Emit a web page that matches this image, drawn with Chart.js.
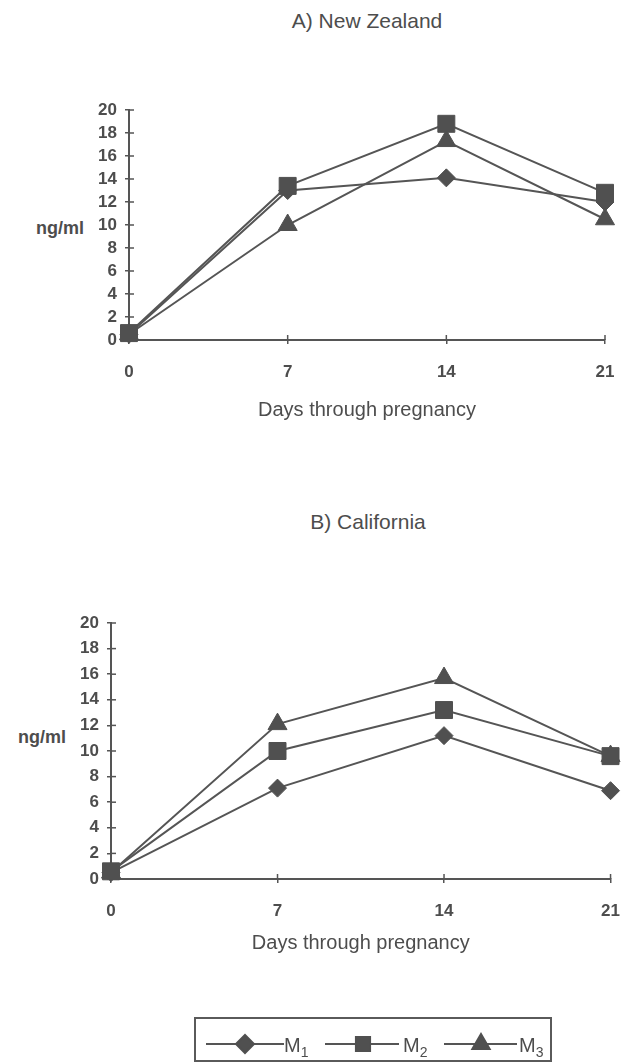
<!DOCTYPE html>
<html><head><meta charset="utf-8">
<script src="https://cdn.jsdelivr.net/npm/chart.js@4.4.1/dist/chart.umd.min.js"></script>
<style>
html,body{margin:0;padding:0;background:#fff;}
body{width:638px;height:1064px;position:relative;overflow:hidden;font-family:"Liberation Sans",Arial,sans-serif;color:#4d4d4d;}
.abs{position:absolute;white-space:nowrap;}
.title{font-size:21px;line-height:24px;text-align:center;}
.ylab{font-size:18px;font-weight:bold;line-height:22px;text-align:right;}
#legend{position:absolute;left:194px;top:1017px;width:358px;height:45px;border:2px solid #5a5a5a;box-sizing:border-box;}
#legend canvas{position:absolute;left:0;top:0;}
.lt{position:absolute;font-size:20px;line-height:24px;top:14px;}
.lt sub{font-size:14px;vertical-align:-5px;line-height:0;}
</style></head>
<body>
<div class="abs title" style="left:129px;width:476px;top:9px;">A) New Zealand</div>
<div class="abs ylab" style="left:0;width:84px;top:217px;">ng/ml</div>
<div class="abs" style="left:0;top:0;width:638px;height:450px;"><canvas id="chartA" width="638" height="450"></canvas></div>

<div class="abs title" style="left:111px;width:514px;top:510px;">B) California</div>
<div class="abs ylab" style="left:0;width:66px;top:726px;">ng/ml</div>
<div class="abs" style="left:0;top:600px;width:638px;height:370px;"><canvas id="chartB" width="638" height="370"></canvas></div>

<div id="legend">
  <canvas id="legendCanvas" width="358" height="45"></canvas>
  <span class="lt" style="left:88px;">M<sub>1</sub></span>
  <span class="lt" style="left:207px;">M<sub>2</sub></span>
  <span class="lt" style="left:323px;">M<sub>3</sub></span>
</div>

<script>
// ---- data ----
const days = ['0', '7', '14', '21'];
const seriesNames = ['M1', 'M2', 'M3'];
const yMin = 0, yMax = 20, yStep = 2;

const nzM1 = [0.5, 13.0, 14.1, 12.0];
const nzM2 = [0.6, 13.4, 18.8, 12.8];
const nzM3 = [0.5, 10.0, 17.3, 10.5];

const caM1 = [0.5, 7.1, 11.2, 6.9];
const caM2 = [0.6, 10.0, 13.2, 9.6];
const caM3 = [0.5, 12.1, 15.7, 9.6];

// ---- style ----
const FONT = '"Liberation Sans", Arial, sans-serif';
const LINE = '#555555';
const FILL = '#505050';
const AX = '#555555';
const TXT = '#4d4d4d';
const markers = [
  {style: 'rectRot', radius: 9},
  {style: 'rect', radius: 12},
  {style: 'triangle', radius: 11}
];
const drawOrder = [1, 0, 2];

const crossTicks = {
  id: 'crossTicks',
  beforeDatasetsDraw(chart) {
    const {ctx, scales: {x, y}, chartArea: a} = chart;
    ctx.save();
    ctx.strokeStyle = AX;
    ctx.lineWidth = 1.5;
    y.ticks.forEach((t, i) => {
      const py = y.getPixelForTick(i);
      ctx.beginPath(); ctx.moveTo(a.left, py); ctx.lineTo(a.left + 5, py); ctx.stroke();
    });
    x.ticks.forEach((t, i) => {
      if (i === 0) return;
      const px = x.getPixelForTick(i);
      ctx.beginPath(); ctx.moveTo(px, a.bottom); ctx.lineTo(px, a.bottom - 5); ctx.stroke();
    });
    ctx.restore();
  }
};

function makeDatasets(arrs) {
  return arrs.map((d, i) => ({
    label: seriesNames[i],
    data: d,
    borderColor: LINE,
    backgroundColor: FILL,
    pointBackgroundColor: FILL,
    pointBorderColor: FILL,
    pointBorderWidth: 1,
    pointStyle: markers[i].style,
    pointRadius: markers[i].radius,
    pointHoverRadius: markers[i].radius,
    borderWidth: 2,
    tension: 0,
    clip: false,
    order: drawOrder[i]
  }));
}

function makeChart(id, arrs, geo) {
  return new Chart(document.getElementById(id), {
    type: 'line',
    data: {labels: days, datasets: makeDatasets(arrs)},
    plugins: [crossTicks],
    options: {
      responsive: false,
      animation: false,
      events: [],
      layout: {padding: {left: 0, right: geo.right, top: geo.top, bottom: 0}},
      plugins: {legend: {display: false}, tooltip: {enabled: false}, title: {display: false}},
      scales: {
        x: {
          type: 'category',
          offset: false,
          grid: {drawOnChartArea: false, drawTicks: true, tickLength: 4, color: AX, lineWidth: 1.5},
          border: {color: AX, width: 2},
          ticks: {color: TXT, font: {family: FONT, size: 17, weight: 'bold'}, padding: 18, maxRotation: 0, autoSkip: false},
          title: {display: true, text: 'Days through pregnancy', color: TXT,
                  font: {family: FONT, size: 20}, padding: {top: 0, bottom: geo.titlePad}},
          afterFit(s) { s.height = geo.xHeight; }
        },
        y: {
          min: yMin, max: yMax,
          grid: {drawOnChartArea: false, drawTicks: true, tickLength: 4, color: AX, lineWidth: 1.5},
          border: {color: AX, width: 2},
          ticks: {stepSize: yStep, autoSkip: false, color: TXT, font: {family: FONT, size: 17, weight: 'bold'}, padding: 8},
          afterFit(s) { s.width = geo.yWidth; }
        }
      }
    }
  });
}

makeChart('chartA', [nzM1, nzM2, nzM3], {top: 110, right: 33, yWidth: 129, xHeight: 110, titlePad: 28});
makeChart('chartB', [caM1, caM2, caM3], {top: 23, right: 13, yWidth: 111, xHeight: 91, titlePad: 15});

// legend symbols
(function () {
  const c = document.getElementById('legendCanvas');
  const ctx = c.getContext('2d');
  const items = [[10, 88, 49], [129, 203, 167], [248, 321, 285]];
  const ly = 25;
  items.forEach((it, i) => {
    ctx.strokeStyle = LINE; ctx.lineWidth = 2;
    ctx.beginPath(); ctx.moveTo(it[0], ly); ctx.lineTo(it[1], ly); ctx.stroke();
    ctx.fillStyle = FILL; ctx.strokeStyle = FILL;
    const r = [9, 10, 10][i];
    Chart.helpers.drawPoint(ctx, {pointStyle: markers[i].style, radius: r, rotation: 0, borderWidth: 1}, it[2], ly);
  });
})();
</script>
</body></html>
